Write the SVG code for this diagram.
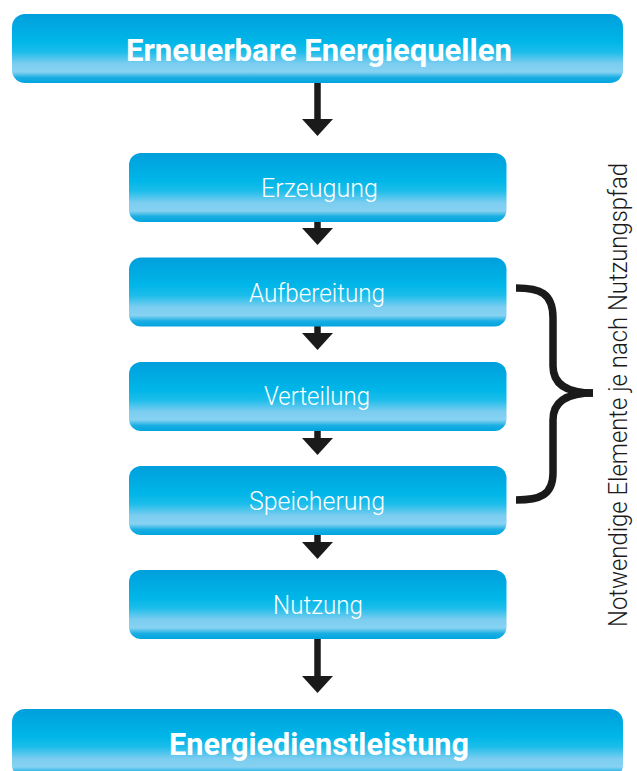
<svg xmlns="http://www.w3.org/2000/svg" width="637" height="771" viewBox="0 0 637 771">
  <defs>
    <linearGradient id="boxFill" x1="0" y1="0" x2="0" y2="1">
      <stop offset="0" stop-color="#009fdc"/>
      <stop offset="0.40" stop-color="#00b6e8"/>
      <stop offset="0.55" stop-color="#1cbdea"/>
      <stop offset="0.72" stop-color="#7ccdf0"/>
      <stop offset="0.84" stop-color="#86d2f2"/>
      <stop offset="0.92" stop-color="#1aaee3"/>
      <stop offset="1" stop-color="#00a4df"/>
    </linearGradient>
    <marker id="head" markerUnits="userSpaceOnUse" markerWidth="17" markerHeight="31" refX="0" refY="15.5" orient="auto">
      <path d="M0,0 L17,15.5 L0,31 Z" fill="#1a1a1a"/>
    </marker>
    <style>
      .box { fill: url(#boxFill); }
      .title { font-family: Roboto, "Liberation Sans", sans-serif; font-weight: 700; font-size: 31px; fill: #ffffff; text-anchor: middle; }
      .label { font-family: Roboto, "Liberation Sans", sans-serif; font-weight: 300; font-size: 25px; fill: #ffffff; text-anchor: middle; }
      .side { font-family: Roboto, "Liberation Sans", sans-serif; font-weight: 300; font-size: 26px; fill: #1a1a1a; }
      .flow { stroke: #1a1a1a; stroke-width: 6.5; fill: none; marker-end: url(#head); }
      .brace { stroke: #1a1a1a; stroke-width: 7.5; fill: none; stroke-linecap: butt; }
    </style>
  </defs>

  <rect width="637" height="771" fill="#ffffff"/>

  <!-- connectors -->
  <g id="connectors">
    <line class="flow" x1="317.5" y1="83" x2="317.5" y2="119"/>
    <line class="flow" x1="317.5" y1="221" x2="317.5" y2="228"/>
    <line class="flow" x1="317.5" y1="326" x2="317.5" y2="333"/>
    <line class="flow" x1="317.5" y1="430" x2="317.5" y2="438"/>
    <line class="flow" x1="317.5" y1="534" x2="317.5" y2="542"/>
    <line class="flow" x1="317.5" y1="638" x2="317.5" y2="676"/>
  </g>

  <g id="quellen">
    <rect class="box" x="12" y="14" width="611" height="69" rx="13"/>
    <text class="title" x="319" y="61" textLength="386" lengthAdjust="spacingAndGlyphs">Erneuerbare Energiequellen</text>
  </g>

  <g id="erzeugung">
    <rect class="box" x="129" y="153" width="377.5" height="69" rx="12"/>
    <text class="label" x="319.5" y="197" textLength="117" lengthAdjust="spacingAndGlyphs">Erzeugung</text>
  </g>

  <g id="aufbereitung">
    <rect class="box" x="129" y="257.5" width="377.5" height="69" rx="12"/>
    <text class="label" x="317" y="302" textLength="136" lengthAdjust="spacingAndGlyphs">Aufbereitung</text>
  </g>

  <g id="verteilung">
    <rect class="box" x="129" y="362" width="377.5" height="69" rx="12"/>
    <text class="label" x="317" y="405" textLength="106" lengthAdjust="spacingAndGlyphs">Verteilung</text>
  </g>

  <g id="speicherung">
    <rect class="box" x="129" y="466" width="377.5" height="69" rx="12"/>
    <text class="label" x="317" y="510" textLength="136" lengthAdjust="spacingAndGlyphs">Speicherung</text>
  </g>

  <g id="nutzung">
    <rect class="box" x="129" y="570" width="377.5" height="69" rx="12"/>
    <text class="label" x="318" y="614" textLength="90" lengthAdjust="spacingAndGlyphs">Nutzung</text>
  </g>

  <g id="dienstleistung">
    <rect class="box" x="12" y="709" width="611" height="69" rx="13"/>
    <text class="title" x="319" y="755" textLength="300" lengthAdjust="spacingAndGlyphs">Energiedienstleistung</text>
  </g>

  <!-- curly brace grouping the optional steps -->
  <g id="klammer">
    <path class="brace" d="M516,288 C540,288 553,293 553,318 L553,366 C553,384 566,393 593,393"/>
    <path class="brace" d="M593,393 C566,393 553,402 553,420 L553,473 C553,495 540,500 516,500"/>
    <text class="side" transform="translate(627,627) rotate(-90)" textLength="464" lengthAdjust="spacingAndGlyphs">Notwendige Elemente je nach Nutzungspfad</text>
  </g>
</svg>
